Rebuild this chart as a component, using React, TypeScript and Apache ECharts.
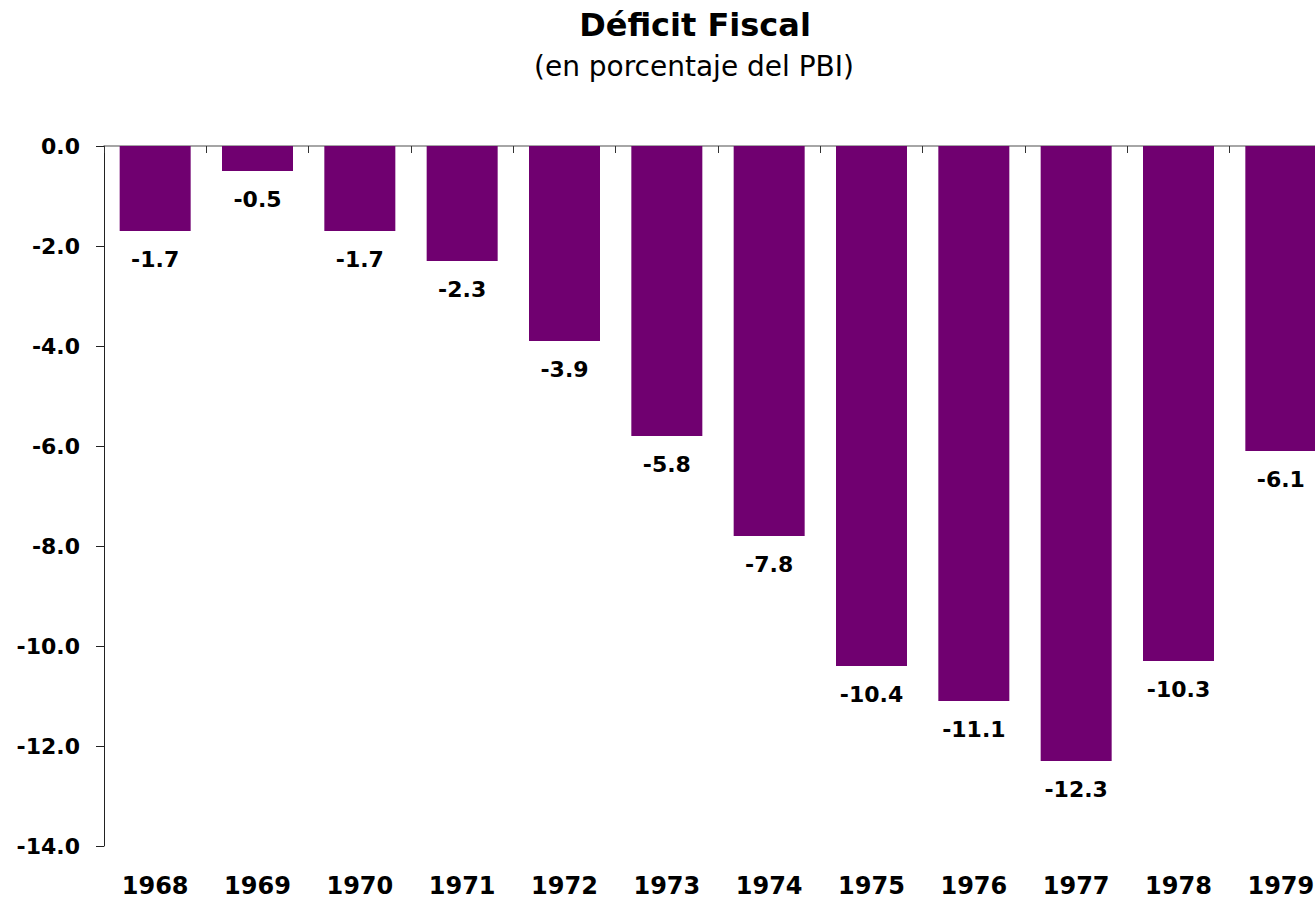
import React, { useEffect, useRef } from "react";
import * as echarts from "echarts";

const years = ["1968", "1969", "1970", "1971", "1972", "1973", "1974", "1975", "1976", "1977", "1978", "1979"];
const deficit = [-1.7, -0.5, -1.7, -2.3, -3.9, -5.8, -7.8, -10.4, -11.1, -12.3, -10.3, -6.1];
const yMin = -14;
const yMax = 0;
const yInterval = 2;
const titleText = "Déficit Fiscal";
const subtitleText = "(en porcentaje del PBI)";

const FONT = "DejaVu Sans";

export default function App() {
  const ref = useRef<HTMLDivElement>(null);
  useEffect(() => {
    if (!ref.current) return;
    const chart = echarts.init(ref.current, null, { renderer: "svg" });
    chart.setOption({
      animation: false,
      backgroundColor: "#ffffff",
      graphic: [
        {
          type: "text",
          x: 695,
          y: 25,
          style: {
            text: titleText,
            font: `bold 32px "${FONT}"`,
            fill: "#000",
            textAlign: "center",
            textVerticalAlign: "middle",
          },
        },
        {
          type: "text",
          x: 694,
          y: 66,
          style: {
            text: subtitleText,
            font: `28px "${FONT}"`,
            fill: "#000",
            textAlign: "center",
            textVerticalAlign: "middle",
          },
        },
      ],
      grid: {
        left: 104,
        top: 146,
        height: 700,
        width: 1228,
        containLabel: false,
        outerBoundsMode: "none",
      },
      xAxis: [
        {
          type: "category",
          data: years,
          position: "top",
          boundaryGap: true,
          axisLine: { show: true, onZero: false, lineStyle: { color: "#888888", width: 1.5 } },
          axisTick: { show: true, inside: true, length: 7, lineStyle: { color: "#333333" } },
          axisLabel: { show: false },
          splitLine: { show: false },
        },
        {
          type: "category",
          data: years,
          position: "bottom",
          axisLine: { show: false },
          axisTick: { show: false },
          axisLabel: {
            show: true,
            margin: 28,
            fontFamily: FONT,
            fontWeight: "bold",
            fontSize: 24,
            color: "#000",
          },
          splitLine: { show: false },
        },
      ],
      yAxis: {
        type: "value",
        min: yMin,
        max: yMax,
        interval: yInterval,
        axisLine: { show: true, lineStyle: { color: "#222222", width: 1 } },
        axisTick: { show: true, inside: false, length: 8, lineStyle: { color: "#222222" } },
        splitLine: { show: false },
        axisLabel: {
          margin: 24,
          fontFamily: FONT,
          fontWeight: "bold",
          fontSize: 22,
          color: "#000",
          formatter: (v: number) => v.toFixed(1),
        },
      },
      series: [
        {
          type: "bar",
          xAxisIndex: 0,
          data: deficit,
          barWidth: 71,
          itemStyle: { color: "#700070" },
          label: {
            show: true,
            position: "bottom",
            distance: 17,
            fontFamily: FONT,
            fontWeight: "bold",
            fontSize: 22,
            color: "#000",
            formatter: (p: any) => Number(p.value).toFixed(1),
          },
        },
      ],
    });
    return () => chart.dispose();
  }, []);
  return (
    <div
      style={{
        position: "fixed",
        left: 0,
        top: 0,
        width: 1315,
        height: 899,
        overflow: "hidden",
        background: "#fff",
      }}
    >
      <div ref={ref} style={{ width: 1400, height: 899 }} />
    </div>
  );
}
